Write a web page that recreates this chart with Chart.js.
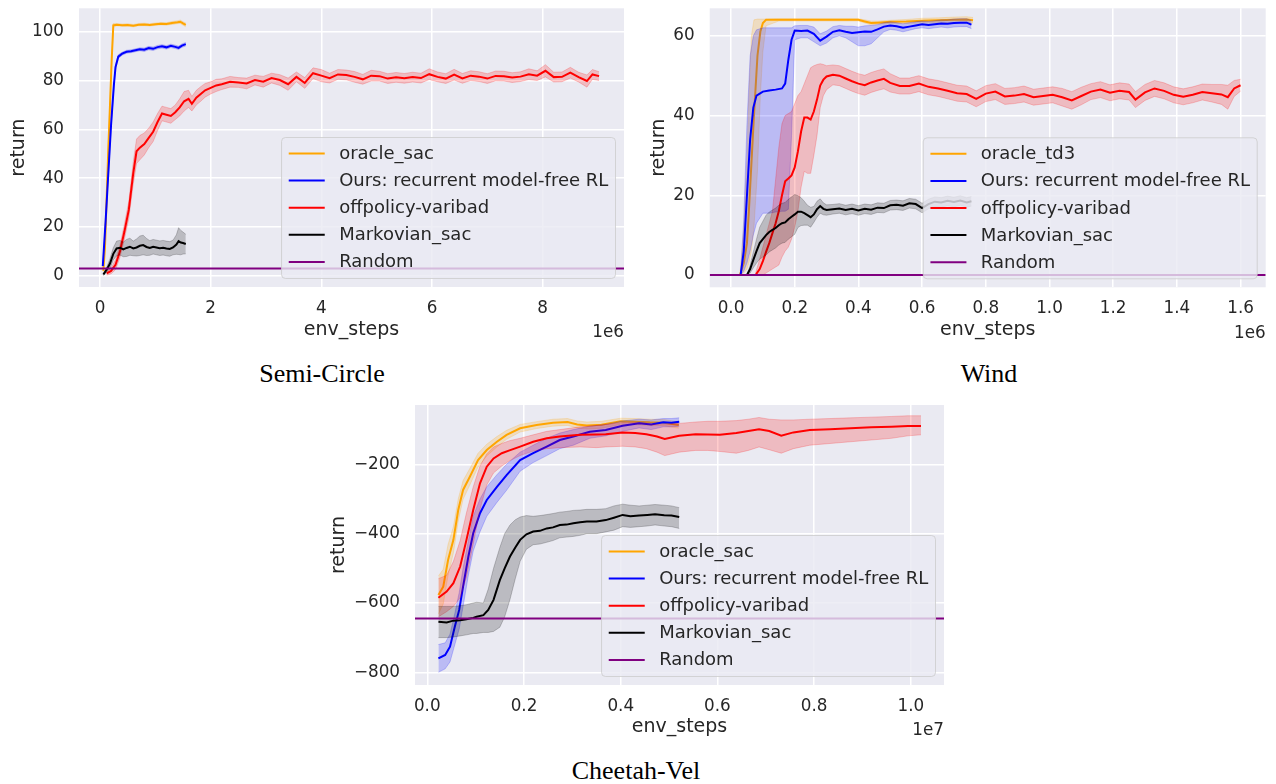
<!DOCTYPE html>
<html>
<head>
<meta charset="utf-8">
<script src="https://cdn.jsdelivr.net/npm/chart.js@4.4.0/dist/chart.umd.min.js"></script>
<style>
  body { margin: 0; background: #fff; width: 1276px; height: 784px; position: relative; overflow: hidden; }
  canvas { position: absolute; }
  .cap { position: absolute; width: 400px; text-align: center; font-family: "Liberation Serif", "Times New Roman", serif; font-size: 26px; line-height: 26px; color: #000; }
</style>
</head>
<body>
<canvas id="semi" width="640" height="345" style="left:0;top:0"></canvas>
<canvas id="wind" width="636" height="345" style="left:640px;top:0"></canvas>
<canvas id="cheetah" width="640" height="345" style="left:320px;top:395px"></canvas>
<div class="cap" style="left:122px;top:361px">Semi-Circle</div>
<div class="cap" style="left:789px;top:361px">Wind</div>
<div class="cap" style="left:436px;top:758px">Cheetah-Vel</div>
<script>
// ---- Semi-Circle (x in 1e6 env steps) ----
const scXTicks = [0, 2, 4, 6, 8];
const scXLabels = ['0', '2', '4', '6', '8'];
const scYTicks = [0, 20, 40, 60, 80, 100];
const scYLabels = ['0', '20', '40', '60', '80', '100'];
const scRandom = 3;

const scOracleX = [0.06,0.09,0.12,0.15,0.18,0.21,0.24,0.3,0.4,0.5,0.6,0.7,0.8,0.9,1.0,1.1,1.2,1.3,1.4,1.45,1.5,1.55];
const scOracleMean = [2,12,32,52,70,88,102.6,102.9,102.7,102.8,102.5,102.9,103.0,102.8,103.1,103.3,103.2,103.6,103.9,104.1,103.4,102.8];
const scOracleSpread = [0.5,1,1.5,1.5,1.5,1.5,0.8,0.5,0.5,0.5,0.5,0.5,0.5,0.5,0.5,0.5,0.5,0.6,0.6,0.7,0.7,0.8];

const scOursX = [0.05,0.1,0.15,0.2,0.25,0.28,0.33,0.4,0.48,0.56,0.64,0.72,0.8,0.88,0.96,1.04,1.12,1.2,1.28,1.36,1.42,1.48,1.55];
const scOursMean = [4,22,42,62,78,85.5,89.8,91.0,91.8,92.0,92.4,92.8,92.6,93.3,93.0,93.7,94.0,93.6,94.2,93.8,93.4,94.3,94.9];
const scOursSpread = [0.5,1,1.5,1.5,1.2,1,0.8,0.6,0.6,0.6,0.6,0.6,0.7,0.7,0.7,0.7,0.7,0.7,0.7,0.7,0.7,0.7,0.7];

const scVaribadX = [0.12,0.2,0.28,0.36,0.44,0.52,0.6,0.66,0.72,0.8,
  0.88,0.96,1.04,1.12,1.2,1.28,1.36,1.44,1.52,1.6,
  1.66,1.74,1.82,1.9,2.0,2.1,2.2,2.35,2.5,2.65,
  2.8,2.95,3.1,3.25,3.4,3.55,3.7,3.85,4.0,4.15,
  4.3,4.45,4.6,4.75,4.9,5.05,5.2,5.35,5.5,5.65,
  5.8,5.95,6.1,6.25,6.4,6.55,6.7,6.85,7.0,7.15,
  7.3,7.45,7.6,7.75,7.9,8.05,8.2,8.35,8.5,8.65,
  8.8,8.9,9.02];
const scVaribadMean = [1,2,4.5,10,18,27,42,51,52.5,54,
  56.5,59,63,66.5,66,65.5,67,69,71.5,72.5,
  70.5,73,74.5,76,77,78,78.5,79.5,79.2,78.8,
  80.2,79.5,81,80.2,78.5,81.5,79,83,82,81,
  82.5,82.3,81.5,80.5,82,81.8,80.8,81.3,80.9,81.4,
  81,82.6,81.5,80.8,82.4,80.9,82,81.6,80.8,81.9,
  81.8,81.2,81.6,82.6,82,84,81.4,81.5,83.2,81.4,
  79.8,82.5,81.8];
const scVaribadSpread = [0.8,1.2,2,2.5,3,3.5,4.5,5,5,4.5,
  4,4,3.5,3,3,3,3,3.5,4,3.5,
  3,3,3,2.8,2.5,2.5,2.2,2.2,2,2.2,
  2,2.2,2,2.2,2.5,2,2.2,2.2,2.5,2,
  2,2,2.2,2,2.2,2,2,2,2,2,
  2,2.2,2,2,2.2,2,2,2,2,2,
  2,2,2,2.2,2,2.5,2,2,2.2,2,
  2.5,2,1.8];

const scMarkovX = [0.06,0.12,0.18,0.24,0.3,0.36,0.42,0.48,0.54,0.6,0.66,0.72,0.78,0.84,0.9,0.96,1.02,1.08,1.14,1.2,1.26,1.32,1.38,1.42,1.46,1.5,1.55];
const scMarkovMean = [0.5,2.5,5,9,11.2,11.5,10.8,11.4,11.9,11.2,11.6,12.3,12.6,11.8,11.4,11.9,11.6,11.3,11.5,11.2,11.0,11.6,12.8,14.2,13.6,13.4,13.0];
const scMarkovSpread = [0.5,1,2,2.5,3,3,3,3.5,3.5,3,3.5,4,4,3.5,3,3,3,3,3,3,3,3,4,5.5,5,4.5,4];

// ---- Wind (x in 1e6 env steps) ----
const wdXTicks = [0, 0.2, 0.4, 0.6, 0.8, 1.0, 1.2, 1.4, 1.6];
const wdXLabels = ['0.0', '0.2', '0.4', '0.6', '0.8', '1.0', '1.2', '1.4', '1.6'];
const wdYTicks = [0, 20, 40, 60];
const wdYLabels = ['0', '20', '40', '60'];
const wdRandom = 0;

const wdOracleX = [0.028,0.04,0.05,0.056,0.064,0.072,0.083,0.092,0.1,0.11,0.15,0.2,0.25,0.3,0.35,0.4,0.42,0.44,0.46,0.5,0.55,0.6,0.65,0.7,0.74,0.76];
const wdOracleMean = [0,3,8,16,28,40,55,61,63.2,64,64,64,64,64,64,64,63.6,63.2,63.3,63.5,63.6,63.8,63.9,64,64.1,63.9];
const wdOracleHi = [0.3,12,30,45,60,64,64.2,64.2,64.2,64.2,64.3,64.3,64.3,64.3,64.3,64.3,64,63.7,63.7,63.9,64.1,64.4,64.5,64.7,64.8,64.6];
const wdOracleLo = [0,0.5,1.5,3,6,12,26,45,56,62.5,63.7,63.7,63.7,63.7,63.7,63.7,63.2,62.7,62.9,63.1,63.1,63.2,63.3,63.3,63.4,63.2];

const wdOursX = [0.03,0.04,0.05,0.06,0.07,0.08,0.1,0.12,0.14,0.16,0.17,0.18,0.19,0.2,
  0.22,0.24,0.26,0.28,0.3,0.32,0.34,0.36,0.38,0.4,
  0.42,0.44,0.46,0.48,0.5,0.52,0.54,0.56,0.58,0.6,
  0.62,0.64,0.66,0.68,0.7,0.72,0.74,0.755];
const wdOursMean = [0,6,20,34,42,45,46,46.3,46.5,46.8,48,54,59,61.3,
  61.2,61.3,60.5,58.8,59.8,61.0,61.4,61.0,60.7,60.9,
  61.1,61.0,61.6,62.3,62.6,62.4,62.0,62.3,62.6,62.9,
  62.7,62.9,63.1,63.0,63.2,63.3,63.3,62.8];
const wdOursHi = [0.3,14,38,55,60,61.5,62,62,62,62,62,62,62,62.5,
  62.6,62.6,62.2,60.5,61.2,62.3,62.6,62.4,62.4,62.2,
  62.5,62.6,62.8,63.3,63.5,63.3,63,63.3,63.5,63.7,
  63.6,63.8,64,64,64.2,64.3,64.3,63.8];
const wdOursLo = [0,1,3,6,10,13,15.5,15.5,15.8,16,16,16.5,35,59,
  59.5,59.5,58.5,57.5,58.2,59.5,60,59.5,58.5,57.5,
  57.5,58,59.5,61,61.6,61.4,61,61.4,61.8,62,
  61.8,62,62.2,62,62.2,62.3,62.3,61.8];

const wdVaribadX = [0.077,0.09,0.1,0.11,0.12,0.13,0.14,0.15,0.16,0.17,
  0.18,0.19,0.2,0.21,0.22,0.23,0.24,0.25,0.26,0.27,
  0.28,0.29,0.3,0.32,0.34,0.36,0.38,0.4,0.42,0.44,
  0.46,0.48,0.5,0.53,0.56,0.59,0.62,0.65,0.68,0.71,
  0.74,0.77,0.8,0.83,0.86,0.89,0.92,0.95,0.98,1.01,
  1.04,1.07,1.1,1.13,1.16,1.19,1.22,1.25,1.27,1.3,
  1.33,1.36,1.39,1.42,1.45,1.48,1.51,1.54,1.56,1.58,
  1.6];
const wdVaribadMean = [0,1.5,3.5,5.8,8,10.5,13,16,20,23.5,
  24.2,25,27,31,36,39.5,39.5,39,41,44,
  47.5,49,49.8,50.2,50,49.3,48.6,48,47.6,48.3,
  48.8,49.2,48.2,47.4,47.4,48,47.2,46.8,46.2,45.6,
  45.4,44.2,45.5,46,44.8,45,45.4,44.6,44.9,45.2,
  44.6,43.8,44.9,46,46.5,45.7,46.2,45.9,44,45.8,
  46.8,46.2,45.2,44.7,45.2,45.9,45.6,45.3,44.6,46.8,
  47.6];
const wdVaribadHi = [0.5,4,7,10,13,16,24,32,38,40,
  40.5,41,43,45,46,48,50,52,52.5,52.8,
  53,52.8,52.5,52.7,52.5,51.8,51.1,50.5,50.1,50.8,
  51.3,51.7,50.5,49.4,49.4,50,49.2,48.8,48.2,47.6,
  47.4,46.2,47.5,48,46.8,47,47.4,46.6,46.9,47.2,
  46.8,46,47.1,48,48.5,47.7,48.2,47.9,46,47.8,
  48.8,48.2,47.2,46.7,47.2,47.9,47.8,47.8,47.6,48.8,
  49.1];
const wdVaribadLo = [0,0,0,0.5,1,1.5,2,2.5,4.5,6,
  7,9,12,16,22,26,25.5,25.5,30,35,
  42,45,46.5,47.7,47.5,46.8,46.1,45.5,45.1,45.8,
  46.3,46.7,45.9,45.4,45.4,46,45.2,44.8,44.2,43.6,
  43.4,42.2,43.5,44,42.8,43,43.4,42.6,42.9,43.2,
  42.4,41.6,42.7,44,44.5,43.7,44.2,43.9,42,43.8,
  44.8,44.2,43.2,42.7,43.2,43.9,43.4,42.8,41.6,44.8,
  46.1];

const wdMarkovX = [0.05,0.06,0.07,0.08,0.09,0.1,0.11,0.12,0.13,0.14,
  0.15,0.16,0.17,0.18,0.19,0.2,0.21,0.22,0.23,0.24,
  0.25,0.26,0.27,0.28,0.29,0.3,0.32,0.34,0.36,0.38,
  0.4,0.42,0.44,0.46,0.48,0.5,0.52,0.54,0.56,0.58,
  0.6,0.62,0.64,0.66,0.68,0.7,0.72,0.74,0.755];
const wdMarkovMean = [0,1.5,3.8,6,8,9,10,10.8,11.3,11.8,
  12.5,13,13.2,14,14.6,15.2,15.9,15.9,15.5,15,
  14.5,15.2,16.5,17.3,16.6,16.3,16.5,16.7,16.3,16.6,
  16.2,16.6,16.4,16.9,16.8,17.5,17.6,17.4,18,17.8,
  16.8,17.8,18.4,18.2,18.6,18.3,18.7,18.2,18.5];
const wdMarkovSpread = [0,1,2,3,4,4.5,5,5,5,5,
  5,5,5,5,5,5,4,3.5,3,2.5,
  2.5,2,2,1.8,1.5,1.3,1.2,1.2,1.2,1.2,
  1.2,1.2,1.2,1.2,1.2,1.2,1.2,1.2,1.2,1.2,
  1.2,1.2,1.2,1.2,1.2,1.2,1.2,1.2,1.2];

// ---- Cheetah-Vel (x in 1e7 env steps) ----
const cvXTicks = [0, 0.2, 0.4, 0.6, 0.8, 1.0];
const cvXLabels = ['0.0', '0.2', '0.4', '0.6', '0.8', '1.0'];
const cvYTicks = [-800, -600, -400, -200];
const cvYLabels = ['\u2212800', '\u2212600', '\u2212400', '\u2212200'];
const cvRandom = -645;

const cvOracleX = [0.023,0.033,0.043,0.054,0.064,0.074,0.088,0.105,0.123,0.144,0.164,0.192,0.226,0.26,0.29,0.31,0.33,0.36,0.4,0.43,0.46,0.49,0.52];
const cvOracleMean = [-577,-553,-476,-418,-332,-274,-236,-188,-159,-135,-115,-96,-87,-80,-78,-85,-88,-86,-76,-77,-79,-80,-87];
const cvOracleSpread = [55,50,45,38,32,27,24,20,17,15,13,11,10,10,10,10,10,10,9,9,9,9,9];

const cvOursX = [0.023,0.037,0.047,0.057,0.066,0.074,0.085,0.095,0.109,0.123,
  0.144,0.164,0.192,0.219,0.247,0.274,0.302,0.336,0.369,0.404,
  0.438,0.463,0.488,0.505,0.521];
const cvOursMean = [-760,-750,-726,-668,-620,-553,-466,-399,-341,-303,
  -265,-231,-188,-168,-149,-130,-120,-106,-101,-89,
  -82,-85,-79,-80,-77];
const cvOursHi = [-720,-715,-690,-630,-570,-500,-420,-350,-300,-265,
  -230,-200,-165,-145,-125,-110,-100,-90,-85,-75,
  -70,-72,-68,-68,-66];
const cvOursLo = [-800,-790,-770,-720,-675,-610,-520,-450,-395,-350,
  -310,-275,-220,-195,-175,-155,-145,-125,-118,-105,
  -95,-100,-92,-92,-90];

const cvVaribadX = [0.023,0.04,0.054,0.068,0.081,0.095,0.109,0.123,0.137,0.154,
  0.17,0.192,0.219,0.247,0.274,0.316,0.35,0.369,0.404,0.43,
  0.453,0.475,0.491,0.521,0.555,0.58,0.605,0.639,0.664,0.686,
  0.707,0.732,0.757,0.791,0.833,0.875,0.918,0.96,0.994,1.021];
const cvVaribadMean = [-585,-567,-543,-495,-418,-332,-255,-207,-183,-168,
  -160,-149,-135,-125,-120,-115,-114,-113.5,-108,-110,
  -113.5,-120,-127,-117.5,-113.5,-114,-115,-110,-104,-99,
  -104,-117.5,-108,-101,-99,-96,-93,-91.5,-89.7,-89.7];
const cvVaribadHi = [-530,-520,-480,-420,-340,-265,-205,-170,-150,-140,
  -132,-125,-115,-105,-100,-92,-88,-85,-80,-80,
  -82,-85,-85,-82,-78,-76,-76,-74,-70,-65,
  -70,-72,-72,-70,-68,-66,-64,-62,-60,-60];
const cvVaribadLo = [-640,-625,-610,-585,-525,-430,-330,-260,-225,-205,
  -190,-175,-162,-155,-152,-150,-152,-150,-148,-150,
  -155,-165,-175,-165,-160,-160,-163,-168,-160,-150,
  -158,-168,-155,-145,-140,-135,-130,-125,-118,-115];

const cvMarkovX = [0.023,0.04,0.054,0.068,0.081,0.095,0.102,0.116,0.126,0.137,
  0.15,0.16,0.171,0.182,0.192,0.205,0.219,0.233,0.247,0.26,
  0.274,0.288,0.302,0.316,0.33,0.35,0.369,0.386,0.404,0.42,
  0.438,0.455,0.471,0.49,0.505,0.521];
const cvMarkovMean = [-654,-656,-651,-650,-647,-643,-640,-635,-620,-591,
  -534,-500,-466,-440,-418,-402,-394,-392,-385,-382,
  -375,-374,-370,-367,-365,-365,-361,-354,-346,-350,
  -348,-346,-344,-347,-348,-352];
const cvMarkovHi = [-610,-610,-610,-608,-605,-600,-598,-600,-560,-500,
  -440,-400,-375,-360,-352,-348,-350,-348,-345,-342,
  -338,-336,-333,-332,-330,-330,-328,-320,-315,-318,
  -320,-318,-316,-318,-320,-325];
const cvMarkovLo = [-700,-700,-698,-695,-692,-688,-688,-685,-685,-682,
  -670,-640,-590,-530,-480,-445,-432,-430,-425,-420,
  -412,-410,-408,-405,-400,-400,-395,-390,-380,-382,
  -380,-378,-375,-378,-380,-385];

// ---- styling / helpers ----
Chart.defaults.font.family = "'DejaVu Sans', sans-serif";
const INK = '#262626';
const LINE = {oracle: '#ffa500', ours: '#0000ff', varibad: '#ff0000', markov: '#000000', random: '#800080'};
const FILL = {oracle: 'rgba(255,165,0,0.2)', ours: 'rgba(0,0,255,0.2)', varibad: 'rgba(255,0,0,0.2)', markov: 'rgba(0,0,0,0.2)'};

function minus(m, s) { return m.map((v, i) => v - s[i]); }
function plus(m, s) { return m.map((v, i) => v + s[i]); }
function pts(x, y) { return x.map((v, i) => ({x: v, y: y[i]})); }

function runSets(r) {
  return [
    {data: pts(r.x, r.lo), borderColor: FILL[r.key], borderWidth: 1, fill: false},
    {data: pts(r.x, r.hi), borderColor: FILL[r.key], borderWidth: 1, backgroundColor: FILL[r.key], fill: '-1'},
    {data: pts(r.x, r.mean), borderColor: LINE[r.key], borderWidth: 2, fill: false}
  ];
}

const plotBg = {
  id: 'plotBg',
  beforeDraw(chart) {
    const {ctx, chartArea: a} = chart;
    ctx.save();
    ctx.fillStyle = '#eaeaf2';
    ctx.fillRect(a.left, a.top, a.width, a.height);
    ctx.restore();
  }
};

const offsetText = {
  id: 'offsetText',
  afterDraw(chart, args, opts) {
    const {ctx, chartArea: a} = chart;
    ctx.save();
    ctx.font = '16.8px "DejaVu Sans"';
    ctx.fillStyle = INK;
    ctx.textAlign = 'right';
    ctx.textBaseline = 'alphabetic';
    ctx.fillText(opts.text, a.right, a.bottom + 50.3);
    ctx.restore();
  }
};

// matplotlib style legend, lower right inside the axes
const mplLegend = {
  id: 'mplLegend',
  afterDraw(chart, args, opts) {
    const {ctx, chartArea: a} = chart;
    const items = opts.items;
    ctx.save();
    ctx.font = '18px "DejaVu Sans"';
    const textW = Math.max(...items.map(it => ctx.measureText(it.label).width));
    const w = 7.2 + 36 + 14.4 + textW + 7.2;
    const h = 16 + (items.length - 1) * 27.1 + 16.6;
    const x0 = a.right - 8.5 - w, y0 = a.bottom - 8.5 - h, r = 4;
    ctx.beginPath();
    ctx.moveTo(x0 + r, y0);
    ctx.arcTo(x0 + w, y0, x0 + w, y0 + h, r);
    ctx.arcTo(x0 + w, y0 + h, x0, y0 + h, r);
    ctx.arcTo(x0, y0 + h, x0, y0, r);
    ctx.arcTo(x0, y0, x0 + w, y0, r);
    ctx.closePath();
    ctx.fillStyle = 'rgba(234,234,242,0.8)';
    ctx.fill();
    ctx.strokeStyle = 'rgba(204,204,204,0.8)';
    ctx.lineWidth = 1;
    ctx.stroke();
    items.forEach((it, i) => {
      const y = y0 + 16 + i * 27.1;
      ctx.strokeStyle = LINE[it.key];
      ctx.lineWidth = 2;
      ctx.beginPath();
      ctx.moveTo(x0 + 7.2, y);
      ctx.lineTo(x0 + 43.2, y);
      ctx.stroke();
      ctx.fillStyle = INK;
      ctx.textBaseline = 'alphabetic';
      ctx.fillText(it.label, x0 + 57.6, y + 5.5);
    });
    ctx.restore();
  }
};

function drawPanel(id, p) {
  const datasets = [];
  p.runs.forEach(r => datasets.push(...runSets(r)));
  datasets.push({
    data: [{x: p.xRange[0], y: p.random}, {x: p.xRange[1], y: p.random}],
    borderColor: LINE.random, borderWidth: 2, fill: false
  });
  datasets.forEach((d, i) => { d.order = -i; d.pointRadius = 0; d.tension = 0; });

  const grid = {color: '#ffffff', lineWidth: 1.5, drawTicks: false};
  new Chart(document.getElementById(id), {
    type: 'line',
    data: {datasets},
    options: {
      responsive: false,
      animation: false,
      layout: {autoPadding: false, padding: p.pad},
      plugins: {
        legend: {display: false},
        tooltip: {enabled: false},
        mplLegend: {items: p.legend},
        offsetText: {text: p.offset}
      },
      scales: {
        x: {
          type: 'linear', min: p.xRange[0], max: p.xRange[1],
          afterBuildTicks: s => { s.ticks = p.xTicks.map(v => ({value: v})); },
          afterFit: s => { s.height = p.xAxisH; s.paddingLeft = 0; s.paddingRight = 0; },
          grid: grid,
          border: {display: false},
          ticks: {color: INK, font: {size: 16.8}, padding: 11.5, maxRotation: 0, minRotation: 0, autoSkip: false,
            callback: (v, i) => p.xLabels[i]},
          title: {display: true, text: 'env_steps', color: INK, font: {size: 19}, padding: {top: 0, bottom: p.xTitlePad}}
        },
        y: {
          type: 'linear', min: p.yRange[0], max: p.yRange[1],
          afterBuildTicks: s => { s.ticks = p.yTicks.map(v => ({value: v})); },
          afterFit: s => { s.width = p.yAxisW; s.paddingTop = 0; s.paddingBottom = 0; },
          grid: grid,
          border: {display: false},
          ticks: {color: INK, font: {size: 16.8}, padding: 15, autoSkip: false,
            callback: (v, i) => p.yLabels[i]},
          title: {display: true, text: 'return', color: INK, font: {size: 19}, padding: {top: 7.5, bottom: 0}}
        }
      }
    },
    plugins: [plotBg, offsetText, mplLegend]
  });
}

function legendItems(oracleName) {
  return [
    {label: oracleName, key: 'oracle'},
    {label: 'Ours: recurrent model-free RL', key: 'ours'},
    {label: 'offpolicy-varibad', key: 'varibad'},
    {label: 'Markovian_sac', key: 'markov'},
    {label: 'Random', key: 'random'}
  ];
}

drawPanel('semi', {
  xRange: [-0.38, 9.47], yRange: [-4.6, 109.6],
  xTicks: scXTicks, xLabels: scXLabels, yTicks: scYTicks, yLabels: scYLabels,
  random: scRandom, offset: '1e6',
  pad: {top: 8.3, right: 16, bottom: 0, left: 0}, yAxisW: 79, xAxisH: 58, xTitlePad: 3.7,
  legend: legendItems('oracle_sac'),
  runs: [
    {key: 'oracle', x: scOracleX, mean: scOracleMean, lo: minus(scOracleMean, scOracleSpread), hi: plus(scOracleMean, scOracleSpread)},
    {key: 'ours', x: scOursX, mean: scOursMean, lo: minus(scOursMean, scOursSpread), hi: plus(scOursMean, scOursSpread)},
    {key: 'varibad', x: scVaribadX, mean: scVaribadMean, lo: minus(scVaribadMean, scVaribadSpread), hi: plus(scVaribadMean, scVaribadSpread)},
    {key: 'markov', x: scMarkovX, mean: scMarkovMean, lo: minus(scMarkovMean, scMarkovSpread), hi: plus(scMarkovMean, scMarkovSpread)}
  ]
});

drawPanel('wind', {
  xRange: [-0.067, 1.679], yRange: [-3.08, 66.9],
  xTicks: wdXTicks, xLabels: wdXLabels, yTicks: wdYTicks, yLabels: wdYLabels,
  random: wdRandom, offset: '1e6',
  pad: {top: 8.3, right: 10.3, bottom: 0, left: 0}, yAxisW: 69.7, xAxisH: 57.7, xTitlePad: 3.7,
  legend: legendItems('oracle_td3'),
  runs: [
    {key: 'oracle', x: wdOracleX, mean: wdOracleMean, lo: wdOracleLo, hi: wdOracleHi},
    {key: 'ours', x: wdOursX, mean: wdOursMean, lo: wdOursLo, hi: wdOursHi},
    {key: 'varibad', x: wdVaribadX, mean: wdVaribadMean, lo: wdVaribadLo, hi: wdVaribadHi},
    {key: 'markov', x: wdMarkovX, mean: wdMarkovMean, lo: minus(wdMarkovMean, wdMarkovSpread), hi: plus(wdMarkovMean, wdMarkovSpread)}
  ]
});

drawPanel('cheetah', {
  xRange: [-0.0254, 1.0685], yRange: [-836.6, -29],
  xTicks: cvXTicks, xLabels: cvXLabels, yTicks: cvYTicks, yLabels: cvYLabels,
  random: cvRandom, offset: '1e7',
  pad: {top: 10, right: 16, bottom: 0, left: 0}, yAxisW: 95, xAxisH: 55, xTitlePad: 1.7,
  legend: legendItems('oracle_sac'),
  runs: [
    {key: 'oracle', x: cvOracleX, mean: cvOracleMean, lo: minus(cvOracleMean, cvOracleSpread), hi: plus(cvOracleMean, cvOracleSpread)},
    {key: 'ours', x: cvOursX, mean: cvOursMean, lo: cvOursLo, hi: cvOursHi},
    {key: 'varibad', x: cvVaribadX, mean: cvVaribadMean, lo: cvVaribadLo, hi: cvVaribadHi},
    {key: 'markov', x: cvMarkovX, mean: cvMarkovMean, lo: cvMarkovLo, hi: cvMarkovHi}
  ]
});
</script>
</body>
</html>
